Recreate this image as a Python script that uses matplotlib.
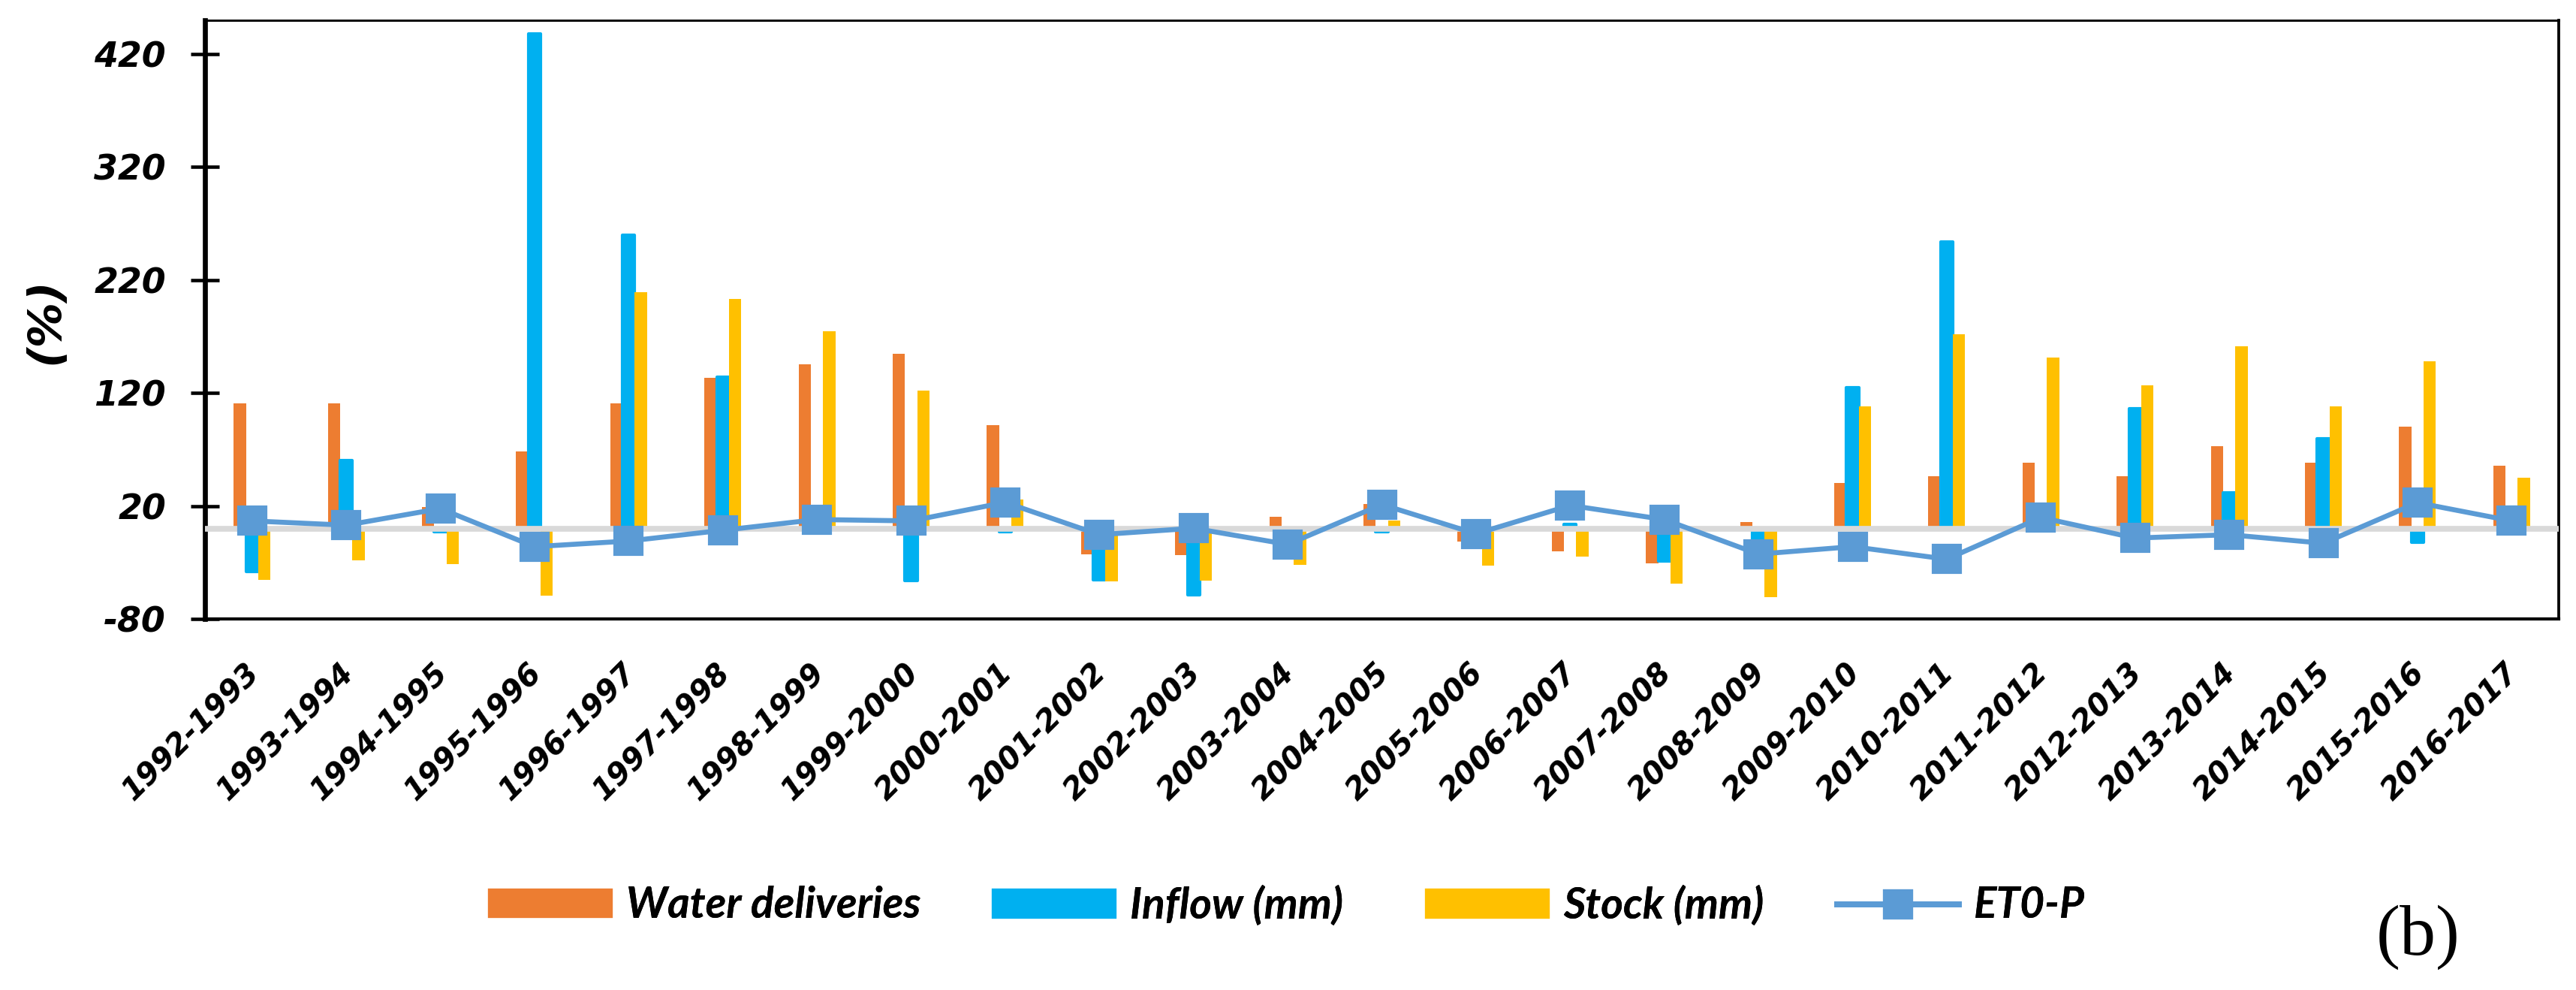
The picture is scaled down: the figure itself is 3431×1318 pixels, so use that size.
import matplotlib
matplotlib.use("Agg")
import matplotlib.pyplot as plt
import matplotlib.transforms as mtransforms
from matplotlib.patches import Patch
from matplotlib.lines import Line2D
import numpy as np

plt.rcParams["axes.unicode_minus"] = False  # plain hyphen on "-80"

# hydrological years
seasons = [
    "1992-1993", "1993-1994", "1994-1995", "1995-1996", "1996-1997",
    "1997-1998", "1998-1999", "1999-2000", "2000-2001", "2001-2002",
    "2002-2003", "2003-2004", "2004-2005", "2005-2006", "2006-2007",
    "2007-2008", "2008-2009", "2009-2010", "2010-2011", "2011-2012",
    "2012-2013", "2013-2014", "2014-2015", "2015-2016", "2016-2017",
]

# relative change (%)
water_deliveries = [110.6, 110.6, 19, 68.3, 110.6, 133.5, 145.4, 154.5, 91.5, -22.6,
                    -23.3, 10.3, 21.5, -11.3, -20, -31, 5.5, 40.4, 46.1, 58.3,
                    46.1, 72.9, 58.3, 90, 55.7]
inflow = [-38, 60, -3, 438, 260, 134, 0, -46, -3, -45.5,
          -58.5, -8, -3, -6, 4, -29, -18, 125, 253.5, 0,
          106, 32, 79.5, -12.5, 19]
stock = [-45.4, -28.3, -31.4, -59.6, 209, 203.4, 175, 122, 26, -47,
         -45.9, -32, 7, -32.6, -24.5, -48.5, -60.7, 108, 172, 151.5,
         126.7, 161.4, 108, 148, 45]
et0_p = [6.8, 3, 17.7, -16, -11, -1.5, 8, 6.8, 23.2, -5.4,
         0.3, -14, 21.3, -4.6, 20.5, 8, -22.6, -16, -27.1, 9.8,
         -8.4, -5.4, -13, 22.9, 6.8]

y_ticks = [-80, 20, 120, 220, 320, 420]

c_orange = "#ED7D31"
c_blue = "#00B0F0"
c_yellow = "#FFC000"
c_line = "#5B9BD5"

W, H, DPI = 3431, 1318, 300
fig = plt.figure(figsize=(W / DPI, H / DPI), dpi=DPI)
ax = fig.add_axes([273 / W, 1 - 824 / H, (3408 - 273) / W, (824 - 27) / H])

x = np.arange(len(seasons))
bw = 0.13
ax.bar(x - bw, water_deliveries, bw, color=c_orange, zorder=2)
ax.bar(x, inflow, bw, color=c_blue, edgecolor=c_blue, linewidth=1.0,
       joinstyle="round", zorder=2)
ax.bar(x + bw, stock, bw, color=c_yellow, zorder=2)

# zero line
ax.axhline(0, color="#D9D9D9", linewidth=1.85, zorder=3)

ax.plot(x, et0_p, color=c_line, linewidth=1.6, marker="s", markersize=8.8,
        markerfacecolor=c_line, markeredgecolor=c_line, zorder=4)

ax.set_xlim(-0.5, len(seasons) - 0.5)
ax.set_ylim(-80, 450)
ax.set_yticks(y_ticks)
ax.set_xticks(x)
ax.set_xticklabels(seasons, rotation=45, ha="right", rotation_mode="anchor",
                   fontsize=9.6, fontweight="bold", fontstyle="italic")
ax.tick_params(axis="x", length=0, pad=12.5)
ax.tick_params(axis="y", direction="inout", length=9, width=1.1, pad=8,
               labelsize=11)
for lab in ax.get_yticklabels():
    lab.set_fontweight("bold")
    lab.set_fontstyle("italic")

# nudge rotated labels a little to the left, like the original
shift = mtransforms.ScaledTranslation(-10 / DPI, 0, fig.dpi_scale_trans)
for lab in ax.get_xticklabels():
    lab.set_transform(lab.get_transform() + shift)

ax.spines["top"].set_linewidth(0.7)
ax.spines["right"].set_linewidth(0.9)
ax.spines["bottom"].set_linewidth(1.0)
ax.spines["left"].set_linewidth(1.6)

fig.text(61 / W, 1 - 427 / H, "(%)", rotation=90, ha="center", va="center",
         fontsize=14.5, fontweight="bold", fontstyle="italic")

# legend font sized so "Water deliveries" is about 392 px wide
leg_font = {"family": "Lato", "weight": "bold", "style": "italic"}
probe = fig.text(0, 0, "Water deliveries", fontsize=10, **leg_font)
fig.canvas.draw()
probe_w = probe.get_window_extent(fig.canvas.get_renderer()).width
probe.remove()
leg_size = 10 * 392 / probe_w
em_px = leg_size * DPI / 72

handles = [
    Patch(color=c_orange, label="Water deliveries"),
    Patch(color=c_blue, label="Inflow (mm)"),
    Patch(color=c_yellow, label="Stock (mm)"),
    Line2D([], [], color=c_line, linewidth=1.9, marker="s", markersize=8.8,
           label="ET0-P"),
]
legend_x = [652, 1323, 1900, 2447]
for h, lx in zip(handles, legend_x):
    leg = fig.legend(handles=[h], loc="center left",
                     bbox_to_anchor=(lx / W, 1 - 1206 / H),
                     frameon=False, handlelength=162 / em_px,
                     handleheight=33 / em_px, handletextpad=20 / em_px,
                     borderpad=0, borderaxespad=0,
                     prop=dict(leg_font, size=leg_size))
    fig.add_artist(leg)

fig.text(3221 / W, 1 - 1248 / H, "(b)", ha="center", va="center",
         fontsize=23, family=["Liberation Serif", "DejaVu Serif"])

fig.savefig("out.png", dpi=DPI)
